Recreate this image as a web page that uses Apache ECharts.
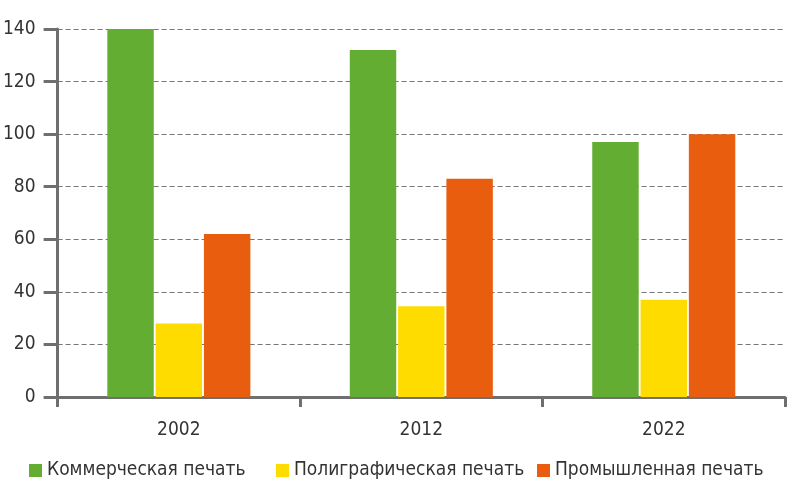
<!DOCTYPE html>
<html>
<head>
<meta charset="utf-8">
<script src="https://cdn.jsdelivr.net/npm/echarts@6/dist/echarts.min.js"></script>
<style>
  html, body { margin: 0; padding: 0; background: #fff; }
  #chart { width: 805px; height: 500px; }
</style>
</head>
<body>
<div id="chart"></div>
<script>
// Данные
const years = ["2002", "2012", "2022"];
const seriesNames = ["Коммерческая печать", "Полиграфическая печать", "Промышленная печать"];
const kommercheskaya = [140, 132, 97];
const poligraficheskaya = [28, 34.5, 37];
const promyshlennaya = [62, 83, 100];

const fontName = "'DejaVu Sans Condensed', 'Liberation Sans Narrow', sans-serif";
const axisColor = "#6f6f6f";
const textColor = "#333";

let chart = echarts.init(document.getElementById("chart"));

// одна легенда на каждый ряд, чтобы поставить их как в оригинале
const legendLeft = [24, 271, 532];
const legends = seriesNames.map((name, i) => ({
  top: 456,
  left: legendLeft[i],
  itemWidth: 13,
  itemHeight: 13,
  itemGap: 0,
  icon: "rect",
  textStyle: { fontSize: 19, color: textColor, fontFamily: fontName },
  data: [name],
}));

chart.setOption({
  animation: false,
  textStyle: { fontFamily: fontName },
  grid: { left: 56, right: 20, top: 29, bottom: 103 },
  legend: legends,
  xAxis: {
    type: "category",
    data: years,
    axisLine: { lineStyle: { color: axisColor, width: 3 } },
    axisTick: { show: true, alignWithLabel: false, length: 10, lineStyle: { color: axisColor, width: 3 } },
    axisLabel: { fontSize: 19, color: textColor, margin: 24 },
  },
  yAxis: {
    type: "value",
    min: 0,
    max: 140,
    interval: 20,
    axisLine: { show: true, lineStyle: { color: axisColor, width: 3 } },
    axisTick: { show: true, length: 14, lineStyle: { color: axisColor, width: 3 } },
    axisLabel: { fontSize: 19, color: textColor, margin: 22 },
    splitLine: { lineStyle: { color: "#777", type: [5, 3], width: 1.2 } },
  },
  series: [
    {
      name: seriesNames[0],
      type: "bar",
      data: kommercheskaya,
      barGap: "4%",
      barCategoryGap: "41%",
      itemStyle: { color: "#62ad32" },
    },
    {
      name: seriesNames[1],
      type: "bar",
      data: poligraficheskaya,
      itemStyle: { color: "#fedc00" },
    },
    {
      name: seriesNames[2],
      type: "bar",
      data: promyshlennaya,
      itemStyle: { color: "#e85d0e" },
    },
  ],
});
</script>
</body>
</html>
